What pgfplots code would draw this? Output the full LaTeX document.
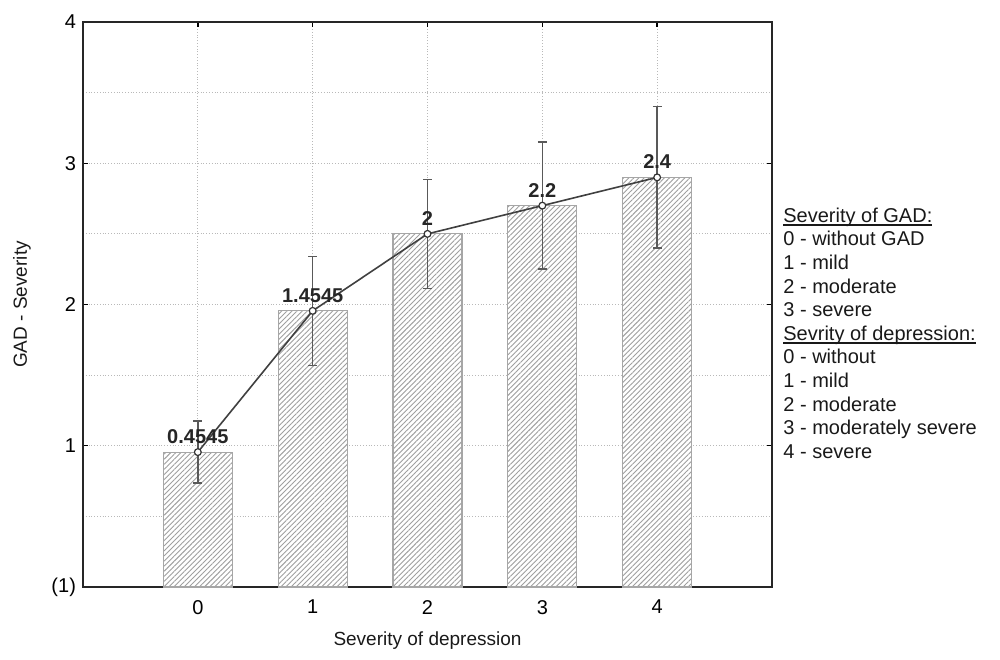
\documentclass[border=0pt]{standalone}
\usepackage{pgfplots}
\pgfplotsset{compat=1.18}
\usepackage{fontspec}
\setmainfont{Liberation Sans}
\usetikzlibrary{patterns.meta}
\newcommand\ul[1]{\setbox0\hbox{#1}\rlap{\rule[-1.7pt]{\wd0}{0.7pt}}\box0}

\begin{document}
\begin{tikzpicture}
\begin{axis}[
  scale only axis, width=344.5pt, height=282.5pt,
  xmin=-1, xmax=5, ymin=0, ymax=4,
  clip=false,
  xtick={0,1,2,3,4},
  ytick={0,1,2,3,4}, yticklabels={(1),1,2,3,4},
  minor y tick num=1,
  xmajorgrids, ymajorgrids, yminorgrids,
  major grid style={gray!55, densely dotted, line width=0.6pt},
  minor grid style={gray!55, densely dotted, line width=0.6pt},
  axis line style={line width=0.9pt, black!85},
  major tick style={black, line width=0.7pt}, major tick length=2.5pt, minor tick length=0pt,
  tick align=inside,
  ticklabel style={font=\fontsize{10}{12}\selectfont, text=black},
  xticklabel style={yshift=-3pt},
  /pgf/number format/assume math mode=true,
  xlabel={Severity of depression},
  ylabel={GAD - Severity},
  label style={font=\fontsize{9.5}{11}\selectfont, text=black!90},
  xlabel style={at={(axis description cs:0.5,-0.094)}, anchor=center},
  ylabel style={at={(axis description cs:-0.0885,0.5)}, anchor=center},
]
\addplot[ybar, bar width=0.6, bar shift=0pt, draw=gray!70, line width=0.6pt, fill=white,
  postaction={pattern={Lines[angle=45,distance=1.8pt,line width=0.45pt]}, pattern color=gray!75}]
  coordinates {(0,0.955) (1,1.955) (2,2.5) (3,2.7) (4,2.9)};
\addplot[black!75, line width=0.8pt, mark=*, mark size=1.7pt,
  mark options={fill=white, draw=black!80, line width=0.6pt},
  nodes near coords, point meta=explicit symbolic,
  nodes near coords style={anchor=south, inner sep=0pt, yshift=4pt, text=black!85,
    font=\bfseries\fontsize{10}{12}\selectfont},
  error bars/.cd, y dir=both, y explicit,
  error bar style={black!65, line width=0.7pt},
  error mark options={black!65, line width=0.7pt, mark size=2.2pt, rotate=90}]
  table[x=x, y=y, y error=e, meta=lab] {
x y     e     lab
0 0.955 0.22  0.4545
1 1.955 0.385 1.4545
2 2.5   0.385 2
3 2.7   0.45  2.2
4 2.9   0.5   2.4
};
\node[anchor=north west, inner sep=0pt, align=left, text=black!90,
  font=\fontsize{10}{11.8}\selectfont] at (rel axis cs:1,0.672) [xshift=5.5pt]
  {\ul{Severity of GAD:}\\
   0 - without GAD\\
   1 - mild\\
   2 - moderate\\
   3 - severe\\
   \ul{Sevrity of depression:}\\
   0 - without\\
   1 - mild\\
   2 - moderate\\
   3 - moderately severe\\
   4 - severe};
\end{axis}
\path (current axis.south west) ++(-41.5pt,-36pt) rectangle ++(500pt,329.5pt);
\end{tikzpicture}
\end{document}
